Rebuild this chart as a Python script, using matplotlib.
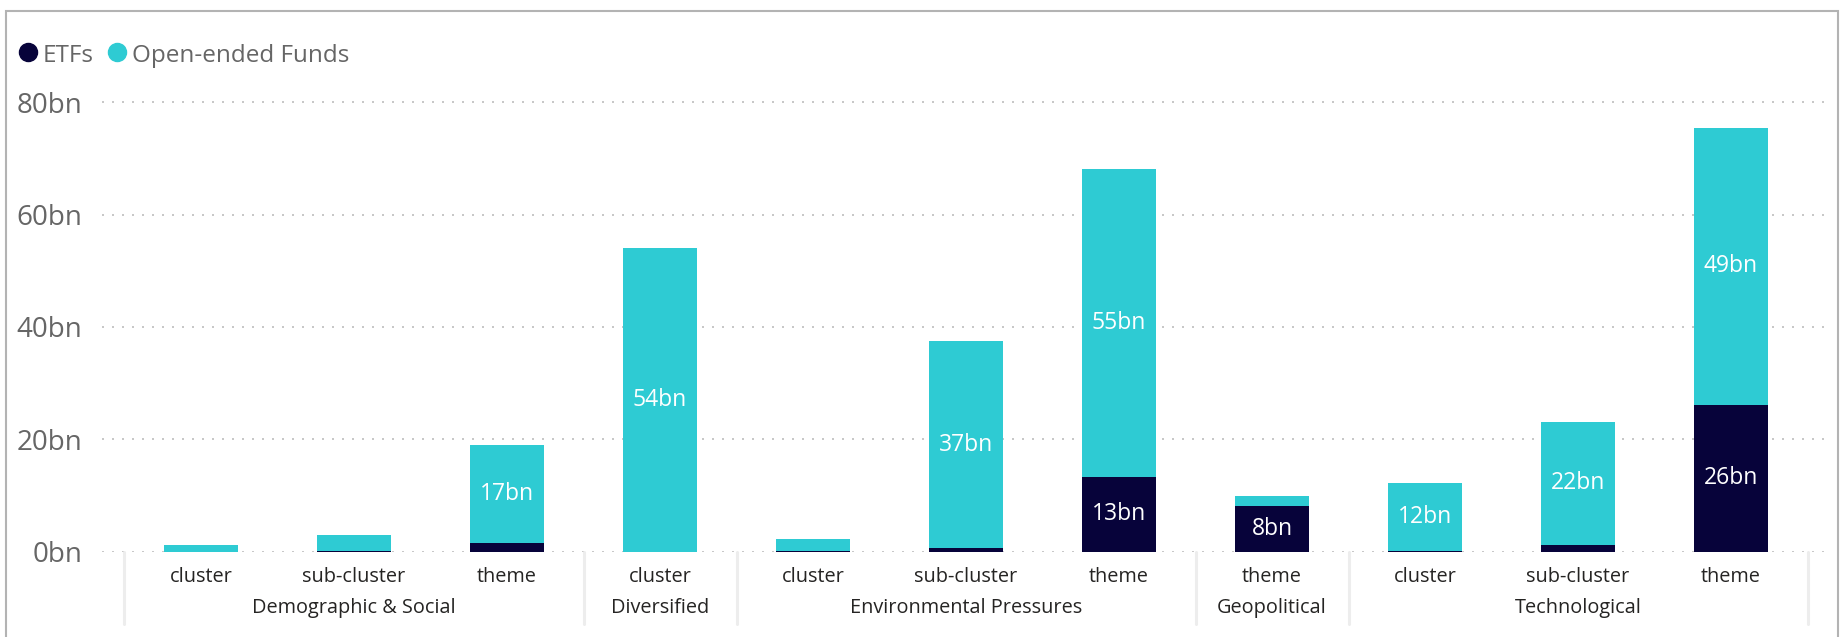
import matplotlib.pyplot as plt
import matplotlib.transforms as mtransforms
from matplotlib.lines import Line2D
from matplotlib.patches import Rectangle
import numpy as np

plt.rcParams['font.family'] = ['Open Sans', 'DejaVu Sans']

# AUM by theme group and classification level (bn)
group_names = ["Demographic & Social", "Diversified", "Environmental Pressures",
               "Geopolitical", "Technological"]
bar_groups = ["Demographic & Social"] * 3 + ["Diversified"] + \
             ["Environmental Pressures"] * 3 + ["Geopolitical"] + ["Technological"] * 3
bar_levels = ["cluster", "sub-cluster", "theme", "cluster", "cluster", "sub-cluster",
              "theme", "theme", "cluster", "sub-cluster", "theme"]
etfs = [0.03, 0.05, 1.6, 0.02, 0.15, 0.65, 13.3, 8.1, 0.15, 1.2, 26.1]
open_ended = [1.2, 3.0, 17.4, 54.0, 2.1, 36.8, 54.9, 1.9, 12.0, 21.9, 49.4]
y_ticks = [0, 20, 40, 60, 80]

c_etf = '#07033a'
c_oef = '#2ecbd3'

W, H = 1846, 637
fig = plt.figure(figsize=(W / 100, H / 100), dpi=100)
ax = fig.add_axes([102 / W, (H - 551.7) / H, (1825 - 102) / W, (551.7 - 91) / H])

x = np.arange(len(bar_levels))
etfs = np.array(etfs)
open_ended = np.array(open_ended)
ax.bar(x, etfs, width=0.485, color=c_etf, zorder=3)
ax.bar(x, open_ended, width=0.485, bottom=etfs, color=c_oef, zorder=3)

# value labels inside segments large enough to hold them
for xi, e, o in zip(x, etfs, open_ended):
    if e >= 5:
        ax.text(xi, e / 2, f"{e:.0f}bn", ha='center', va='center', color='white',
                fontsize=16.5, zorder=4)
    if o >= 5:
        ax.text(xi, e + o / 2, f"{o:.0f}bn", ha='center', va='center', color='white',
                fontsize=16.5, zorder=4)

ax.set_xlim(-0.647, 10.614)
ax.set_ylim(0, 82)
ax.set_yticks(y_ticks)
ax.set_yticklabels([f"{v}bn" for v in y_ticks])
ax.tick_params(axis='y', length=0, pad=14.4, labelsize=20, labelcolor='#666666')
ax.set_xticks([])
for s in ax.spines.values():
    s.set_visible(False)
ax.yaxis.grid(True, color='#c8c8c8', linestyle=(0, (1, 4)), linewidth=1.44)
ax.set_axisbelow(True)

# hierarchical category axis
trans = mtransforms.blended_transform_factory(ax.transData, ax.transAxes)
for xi, lvl in zip(x, bar_levels):
    ax.text(xi, -0.0651, lvl, transform=trans, ha='center', va='baseline',
            fontsize=14.3, color='#252423', clip_on=False)

bar_groups = np.array(bar_groups)
edges = []
for g in group_names:
    idx = x[bar_groups == g]
    ax.text(idx.mean(), -0.1324, g, transform=trans, ha='center', va='baseline',
            fontsize=14.3, color='#252423', clip_on=False)
    edges += [idx.min() - 0.5, idx.max() + 0.5]
for e in sorted(set(edges)):
    ax.plot([e, e], [0, -0.157], transform=trans, color='#ededed', lw=2.2,
            solid_capstyle='round', clip_on=False)

# legend
for cx, tx, col, lab in [(28, 43, c_etf, 'ETFs'), (117, 132, c_oef, 'Open-ended Funds')]:
    fig.add_artist(Line2D([cx / W], [1 - 52 / H], marker='o', ms=13, color=col,
                          linestyle='none', transform=fig.transFigure))
    fig.text(tx / W, 1 - 61.7 / H, lab, ha='left', va='baseline', fontsize=17.5,
             color='#666666')

# visual frame
fig.add_artist(Rectangle((5.5 / W, -0.1), (1837.5 - 5.5) / W, (H - 11) / H + 0.1,
                         transform=fig.transFigure, fill=False, ec='#b3b3b3', lw=1.5))

fig.savefig('out.png', dpi=100)
